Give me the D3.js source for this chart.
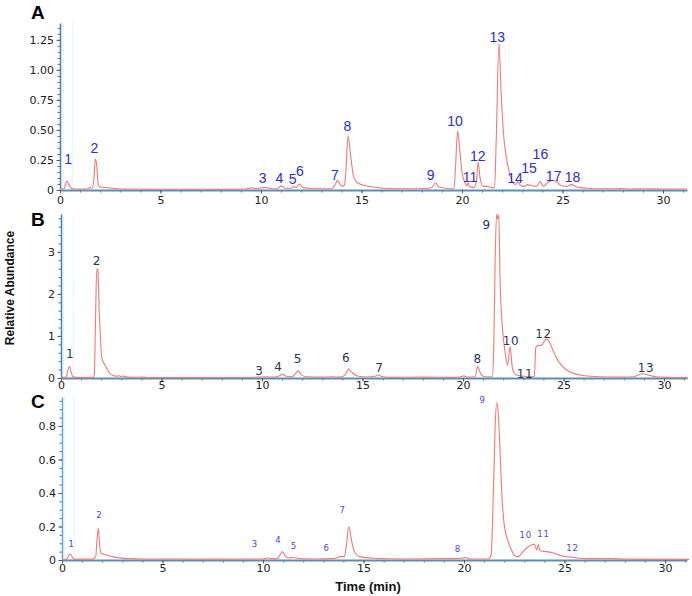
<!DOCTYPE html>
<html>
<head>
<meta charset="utf-8">
<script src="https://cdn.jsdelivr.net/npm/d3@7"></script>
<style>
  body { margin: 0; background: #fff; }
  svg { display: block; }
</style>
</head>
<body>
<svg width="692" height="596"></svg>
<script>
'use strict';

// chromatogram traces, [time (min), relative abundance]
var traceA = [
  [0, 0.005], [0.2, 0.01], [0.28, 0.05], [0.34, 0.075], [0.45, 0.04], [0.6, 0.01], [1.0, 0.008],
  [1.4, 0.01], [1.5, 0.02], [1.6, 0.015], [1.68, 0.08], [1.76, 0.26], [1.83, 0.2], [1.9, 0.05],
  [2.0, 0.025], [2.3, 0.02], [2.6, 0.015], [3.0, 0.008], [5, 0.006], [8, 0.006], [9.2, 0.008],
  [9.5, 0.018], [9.8, 0.01], [10.2, 0.022], [10.5, 0.012], [10.8, 0.01], [11.0, 0.032], [11.2, 0.015],
  [11.5, 0.015], [11.65, 0.028], [11.75, 0.02], [11.9, 0.05], [12.1, 0.02], [12.5, 0.012], [13.0, 0.01],
  [13.5, 0.01], [13.7, 0.05], [13.8, 0.08], [13.95, 0.045], [14.05, 0.03], [14.15, 0.04], [14.22, 0.15],
  [14.33, 0.45], [14.45, 0.3], [14.6, 0.12], [14.8, 0.06], [15.2, 0.035], [15.8, 0.02], [16.3, 0.012],
  [17.5, 0.01], [18.2, 0.012], [18.5, 0.02], [18.68, 0.06], [18.85, 0.025], [19.2, 0.015], [19.6, 0.01],
  [19.68, 0.2], [19.78, 0.49], [19.88, 0.35], [20.0, 0.15], [20.15, 0.06], [20.25, 0.035], [20.3, 0.06],
  [20.38, 0.03], [20.6, 0.02], [20.72, 0.08], [20.8, 0.23], [20.9, 0.1], [21.05, 0.03], [21.3, 0.03],
  [21.45, 0.02], [21.62, 0.02], [21.7, 0.4], [21.84, 1.22], [21.95, 0.8], [22.05, 0.5], [22.2, 0.28],
  [22.35, 0.15], [22.5, 0.07], [22.65, 0.045], [22.78, 0.07], [22.9, 0.04], [23.1, 0.03], [23.25, 0.045],
  [23.5, 0.035], [23.7, 0.03], [23.9, 0.07], [24.05, 0.03], [24.25, 0.06], [24.5, 0.08], [24.7, 0.07],
  [24.95, 0.035], [25.2, 0.03], [25.45, 0.045], [25.7, 0.025], [26.2, 0.015], [27, 0.01], [28, 0.012],
  [28.3, 0.008], [29.2, 0.01], [30, 0.008], [31.2, 0.008]
];
var traceB = [
  [0, 0.01], [0.25, 0.02], [0.35, 0.2], [0.42, 0.27], [0.5, 0.15], [0.6, 0.02], [1.0, 0.01], [1.6, 0.015],
  [1.66, 0.1], [1.7, 0.9], [1.75, 2.2], [1.8, 2.6], [1.84, 2.55], [1.9, 1.6], [1.95, 1.1], [2.02, 0.5],
  [2.1, 0.38], [2.2, 0.3], [2.3, 0.2], [2.45, 0.1], [2.6, 0.06], [2.8, 0.04], [2.88, 0.06], [2.95, 0.035],
  [3.1, 0.045], [3.3, 0.02], [3.6, 0.015], [4.1, 0.02], [4.3, 0.01], [6, 0.01], [9, 0.012], [9.8, 0.02],
  [10.2, 0.03], [10.6, 0.02], [10.9, 0.06], [11.0, 0.09], [11.2, 0.04], [11.5, 0.03], [11.7, 0.12],
  [11.8, 0.17], [11.95, 0.08], [12.2, 0.03], [13, 0.02], [13.5, 0.03], [13.9, 0.02], [14.15, 0.08],
  [14.3, 0.21], [14.5, 0.12], [14.8, 0.04], [15.2, 0.025], [15.6, 0.04], [15.8, 0.07], [16.0, 0.03],
  [16.5, 0.015], [18, 0.02], [19.5, 0.015], [19.9, 0.03], [20.05, 0.05], [20.2, 0.02], [20.6, 0.03],
  [20.73, 0.27], [20.88, 0.1], [21.1, 0.03], [21.45, 0.03], [21.52, 0.5], [21.6, 2.8], [21.67, 3.9],
  [21.72, 3.78], [21.78, 3.88], [21.84, 2.4], [21.96, 1.2], [22.09, 0.63], [22.22, 0.3], [22.34, 0.75],
  [22.47, 0.2], [22.67, 0.07], [23.0, 0.04], [23.4, 0.03], [23.55, 0.04], [23.62, 0.72], [23.7, 0.77],
  [23.9, 0.78], [24.16, 0.93], [24.3, 0.85], [24.5, 0.63], [24.8, 0.36], [25.15, 0.19], [25.5, 0.11],
  [26.0, 0.06], [26.8, 0.03], [28.0, 0.02], [28.5, 0.03], [28.9, 0.1], [29.3, 0.06], [29.7, 0.02],
  [30.5, 0.01], [31.2, 0.01]
];
var traceC = [
  [0, 0.003], [0.25, 0.005], [0.32, 0.025], [0.4, 0.036], [0.5, 0.02], [0.6, 0.005], [1.5, 0.005],
  [1.68, 0.02], [1.74, 0.12], [1.81, 0.19], [1.88, 0.08], [1.95, 0.04], [2.2, 0.03], [2.5, 0.02],
  [2.8, 0.014], [3.3, 0.008], [4, 0.006], [8, 0.005], [10.0, 0.006], [10.2, 0.012], [10.4, 0.008],
  [10.7, 0.008], [10.85, 0.03], [10.95, 0.05], [11.1, 0.025], [11.3, 0.012], [11.5, 0.016], [11.7, 0.01],
  [12.5, 0.006], [13.5, 0.008], [13.85, 0.02], [14.05, 0.02], [14.15, 0.09], [14.27, 0.2], [14.4, 0.12],
  [14.55, 0.05], [14.8, 0.02], [15.5, 0.01], [17, 0.006], [19, 0.008], [19.9, 0.01], [20.07, 0.016],
  [20.3, 0.006], [21.2, 0.006], [21.35, 0.03], [21.45, 0.35], [21.55, 0.8], [21.63, 0.94], [21.7, 0.88],
  [21.77, 0.72], [21.88, 0.4], [22.0, 0.21], [22.2, 0.11], [22.36, 0.06], [22.56, 0.022], [22.7, 0.02],
  [22.9, 0.045], [23.1, 0.07], [23.35, 0.09], [23.5, 0.094], [23.62, 0.06], [23.7, 0.092], [23.78, 0.055],
  [24.1, 0.05], [24.5, 0.04], [24.8, 0.027], [25.2, 0.018], [25.45, 0.016], [25.6, 0.012], [26.3, 0.008],
  [27.3, 0.008], [28, 0.005], [31.2, 0.004]
];

// peak labels, [text, time, abundance at text baseline]
var labelsA = [
  ['1', 0.41, 0.22], ['2', 1.71, 0.31], ['3', 10.08, 0.06], ['4', 10.91, 0.06], ['5', 11.58, 0.05],
  ['6', 11.94, 0.115], ['7', 13.68, 0.083], ['8', 14.3, 0.49], ['9', 18.44, 0.083], ['10', 19.65, 0.53],
  ['11', 20.4, 0.07], ['12', 20.78, 0.245], ['13', 21.76, 1.236], ['14', 22.64, 0.055], ['15', 23.33, 0.145],
  ['16', 23.9, 0.255], ['17', 24.56, 0.075], ['18', 25.5, 0.07]
];
var labelsB = [
  ['1', 0.45, 0.47], ['2', 1.78, 2.69], ['3', 9.87, 0.07], ['4', 10.81, 0.17], ['5', 11.78, 0.35],
  ['6', 14.18, 0.39], ['7', 15.84, 0.15], ['8', 20.73, 0.35], ['9', 21.18, 3.55], ['10', 22.39, 0.79],
  ['11', 23.08, 0.0], ['12', 24.0, 0.94], ['13', 29.1, 0.15]
];
var labelsC = [
  ['1', 0.48, 0.076], ['2', 1.86, 0.25], ['3', 9.6, 0.076], ['4', 10.76, 0.103], ['5', 11.54, 0.064],
  ['6', 13.17, 0.055], ['7', 13.96, 0.28], ['8', 19.69, 0.046], ['9', 20.93, 0.935], ['10', 23.07, 0.13],
  ['11', 23.95, 0.14], ['12', 25.4, 0.055]
];

// axis ticks
var xTicks = [0, 5, 10, 15, 20, 25, 30];
var xMinorTicks = d3.range(0, 32, 1);
var yTicksA = [0, 0.25, 0.5, 0.75, 1, 1.25];
var yTickTextA = ['0', '0.25', '0.50', '0.75', '1.00', '1.25'];
var yTicksB = [0, 1, 2, 3];
var yTickTextB = ['0', '1', '2', '3'];
var yTicksC = [0, 0.2, 0.4, 0.6, 0.8];
var yTickTextC = ['0', '0.2', '0.4', '0.6', '0.8'];
var guideTimes = [0.12, 0.62];

var svg = d3.select('svg');
var right = 687;
var pxPerMin = 20.1;

var panels = [
  { letter: 'A', trace: traceA, labels: labelsA, yTicks: yTicksA, yText: yTickTextA, yMax: 1.39,
    minorStep: 0.05, x0: 60, base: 190, top: 23, letterY: 18.5, xLabelDy: 14,
    yAxisColor: '#4a7fae', labelColor: '#2c2cd8', labelSize: 14,
    labelFont: '"Liberation Sans Narrow", "Arial Narrow", "Liberation Sans", Arial, sans-serif', labelSpacing: 0 },
  { letter: 'B', trace: traceB, labels: labelsB, yTicks: yTicksB, yText: yTickTextB, yMax: 3.9,
    minorStep: 0.2, x0: 61, base: 378, top: 214, letterY: 226, xLabelDy: 11,
    yAxisColor: '#3f86c6', labelColor: '#29365a', labelSize: 12,
    labelFont: '"DejaVu Sans", Verdana, sans-serif', labelSpacing: 0.6 },
  { letter: 'C', trace: traceC, labels: labelsC, yTicks: yTicksC, yText: yTickTextC, yMax: 0.973,
    minorStep: 0.05, x0: 62, base: 560, top: 397, letterY: 408, xLabelDy: 12,
    yAxisColor: '#5aa8dc', labelColor: '#4646e0', labelSize: 8.5,
    labelFont: '"DejaVu Sans", Verdana, sans-serif', labelSpacing: 0.8 }
];

panels.forEach(function (p) {
  var tMax = (right - p.x0) / pxPerMin;
  var x = d3.scaleLinear().domain([0, tMax]).range([p.x0, right]);
  var y = d3.scaleLinear().domain([0, p.yMax]).range([p.base, p.top]);
  var g = svg.append('g');

  // faint guide lines near the solvent front
  g.selectAll('line.guide').data(guideTimes).enter().append('line')
    .attr('class', 'guide')
    .attr('x1', function (d) { return x(d); }).attr('x2', function (d) { return x(d); })
    .attr('y1', p.top).attr('y2', p.base)
    .attr('stroke', '#bfeef2').attr('stroke-width', 0.8)
    .attr('stroke-dasharray', '1,1');

  // minor ticks
  var xMinor = d3.axisBottom(x).tickValues(xMinorTicks.filter(function (d) { return d <= tMax; }))
    .tickSize(2.5).tickSizeOuter(0).tickFormat('');
  g.append('g').attr('transform', 'translate(0,' + p.base + ')').call(xMinor)
    .call(function (s) { s.select('.domain').remove(); s.selectAll('line').attr('stroke', '#5a6e80'); });

  var yMinor = d3.axisLeft(y).tickValues(d3.range(0, p.yMax, p.minorStep))
    .tickSize(2.5).tickSizeOuter(0).tickFormat('');
  g.append('g').attr('transform', 'translate(' + p.x0 + ',0)').call(yMinor)
    .call(function (s) { s.select('.domain').remove(); s.selectAll('line').attr('stroke', '#5a6e80'); });

  // major axes
  var xAxis = d3.axisBottom(x).tickValues(xTicks).tickSize(3.5).tickSizeOuter(0)
    .tickFormat(d3.format('d'));
  g.append('g').attr('transform', 'translate(0,' + p.base + ')').call(xAxis)
    .call(function (s) {
      s.select('.domain').attr('stroke', '#5b8fae').attr('stroke-width', 2);
      s.selectAll('line').attr('stroke', '#4a5e70');
      s.selectAll('text').attr('y', p.xLabelDy).attr('dy', 0)
        .attr('font-family', '"DejaVu Sans", Verdana, sans-serif')
        .attr('font-size', 11).attr('fill', '#222');
    });

  var yAxis = d3.axisLeft(y).tickValues(p.yTicks).tickSize(3.5).tickSizeOuter(0)
    .tickFormat(function (d, i) { return p.yText[i]; });
  g.append('g').attr('transform', 'translate(' + p.x0 + ',0)').call(yAxis)
    .call(function (s) {
      s.select('.domain').attr('stroke', p.yAxisColor).attr('stroke-width', 1.5);
      s.selectAll('line').attr('stroke', '#4a5e70');
      s.selectAll('text').attr('x', -6).attr('dy', '0.36em')
        .attr('font-family', '"DejaVu Sans", Verdana, sans-serif')
        .attr('font-size', 11).attr('fill', '#222');
    });

  // trace
  var line = d3.line()
    .x(function (d) { return x(d[0]); })
    .y(function (d) { return y(d[1]); })
    .curve(d3.curveMonotoneX);
  g.append('path').datum(p.trace)
    .attr('d', line)
    .attr('fill', 'none')
    .attr('stroke', '#f47878')
    .attr('stroke-width', 1.1)
    .attr('stroke-linejoin', 'round');

  // peak numbers
  g.selectAll('text.peak').data(p.labels).enter().append('text')
    .attr('class', 'peak')
    .attr('x', function (d) { return x(d[1]); })
    .attr('y', function (d) { return y(d[2]); })
    .attr('text-anchor', 'middle')
    .attr('font-family', p.labelFont)
    .attr('font-size', p.labelSize)
    .attr('letter-spacing', p.labelSpacing)
    .attr('fill', p.labelColor)
    .text(function (d) { return d[0]; });

  // panel letter
  g.append('text')
    .attr('x', 31).attr('y', p.letterY)
    .attr('font-family', '"Liberation Sans", Arial, sans-serif')
    .attr('font-weight', 'bold').attr('font-size', 19)
    .attr('fill', '#000')
    .text(p.letter);
});

// axis titles
svg.append('text')
  .attr('transform', 'translate(14,288) rotate(-90)')
  .attr('text-anchor', 'middle')
  .attr('font-family', '"Liberation Sans", Arial, sans-serif')
  .attr('font-weight', 'bold').attr('font-size', 12)
  .attr('fill', '#111')
  .text('Relative Abundance');

svg.append('text')
  .attr('x', 368).attr('y', 591)
  .attr('text-anchor', 'middle')
  .attr('font-family', '"Liberation Sans", Arial, sans-serif')
  .attr('font-weight', 'bold').attr('font-size', 13)
  .attr('fill', '#111')
  .text('Time (min)');
</script>
</body>
</html>
